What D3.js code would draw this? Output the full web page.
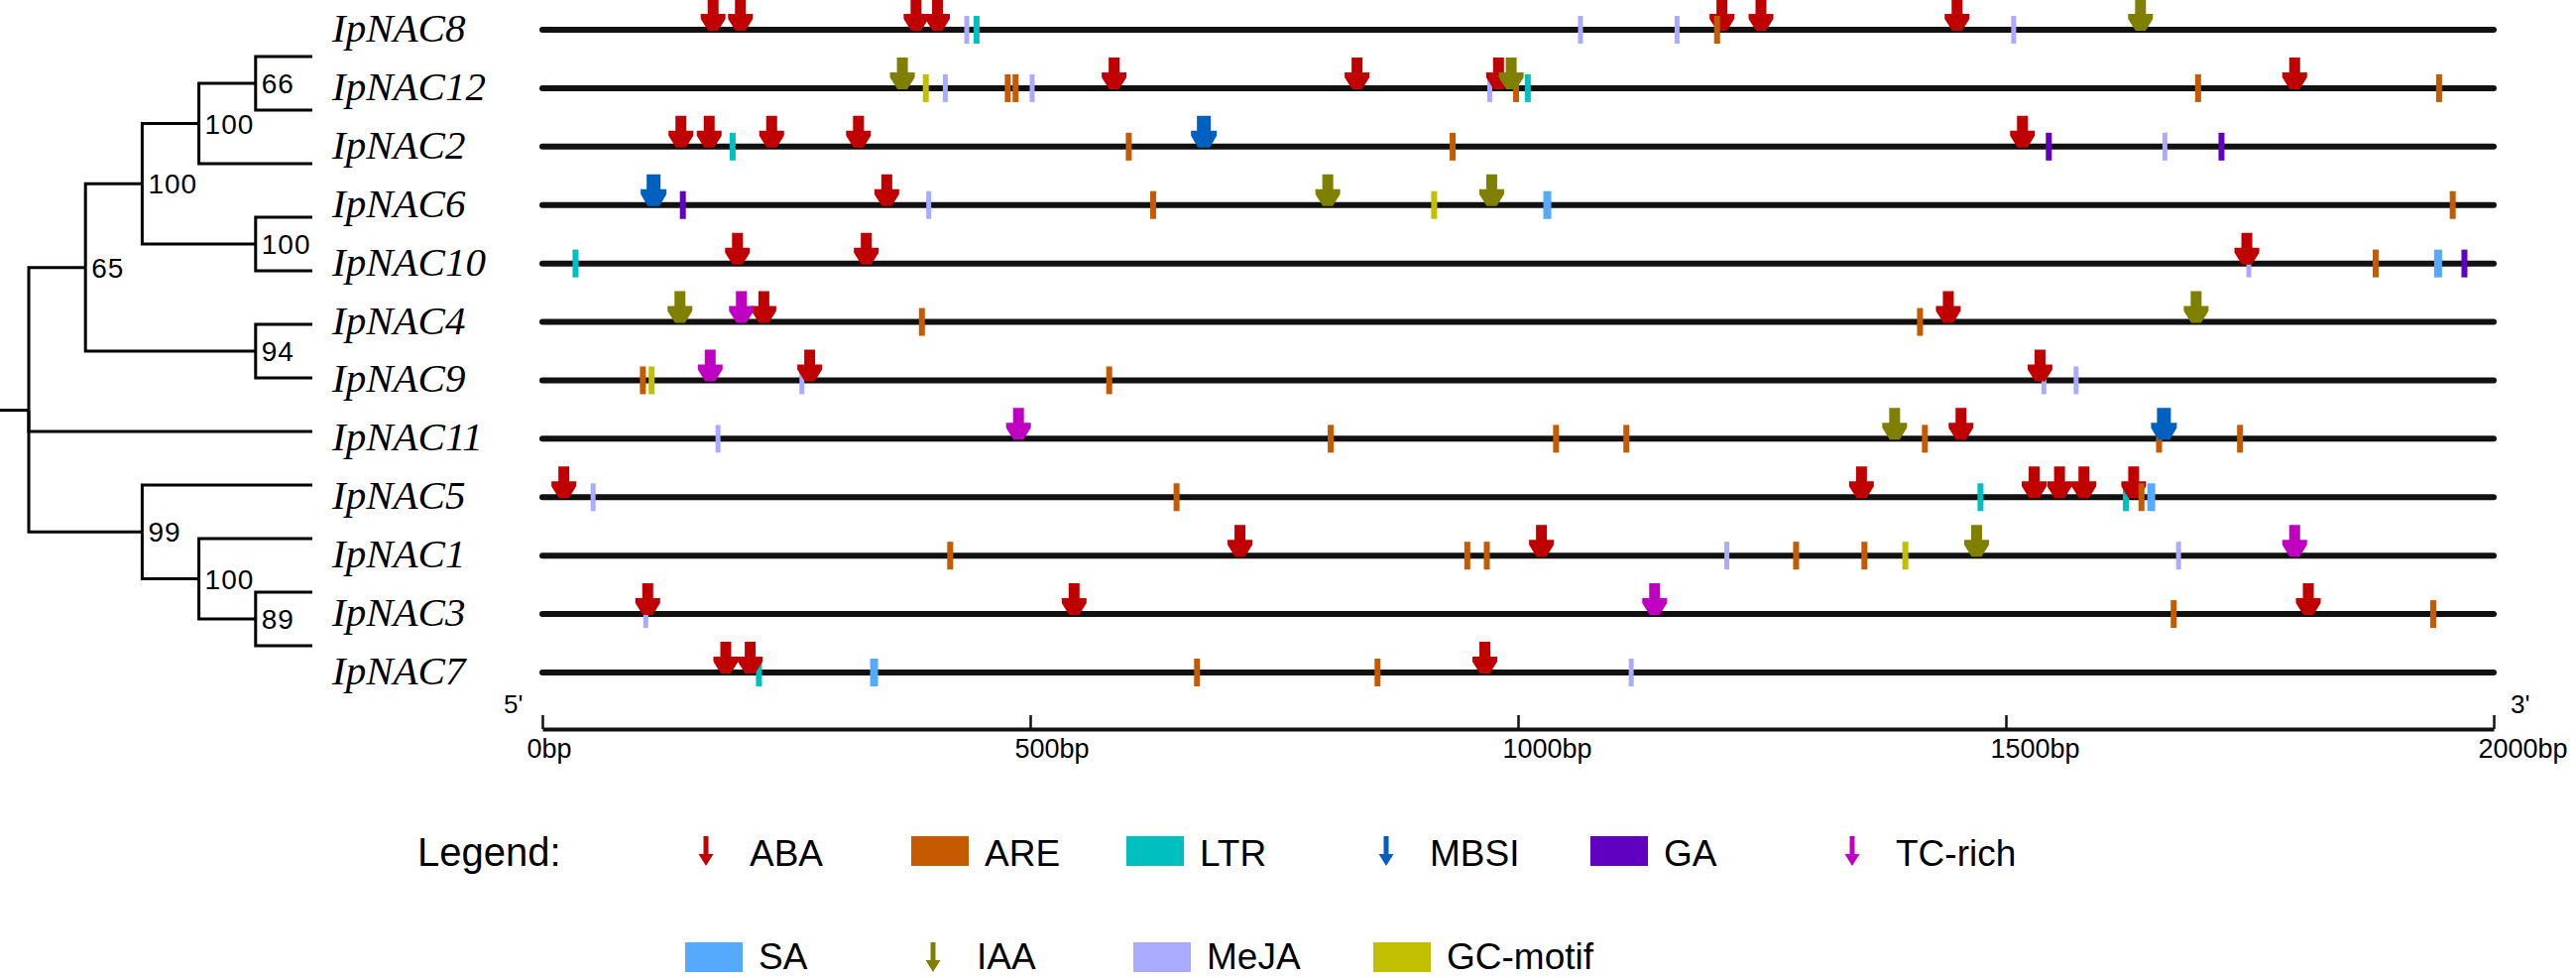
<!DOCTYPE html>
<html>
<head>
<meta charset="utf-8">
<script src="https://cdnjs.cloudflare.com/ajax/libs/d3/7.8.5/d3.min.js"></script>
<style>
  body { margin: 0; background: #fff; }
  svg { display: block; }
</style>
</head>
<body>
<svg id="chart" width="2598" height="986"></svg>
<script>
// gene order (top to bottom, as in the tree)
const genes = ["IpNAC8", "IpNAC12", "IpNAC2", "IpNAC6", "IpNAC10", "IpNAC4",
               "IpNAC9", "IpNAC11", "IpNAC5", "IpNAC1", "IpNAC3", "IpNAC7"];

// tree topology with bootstrap values
const tree = { children: [
  { support: 65, children: [
    { support: 100, children: [
      { support: 100, children: [
        { support: 66, children: [{ name: "IpNAC8" }, { name: "IpNAC12" }] },
        { name: "IpNAC2" } ] },
      { support: 100, children: [{ name: "IpNAC6" }, { name: "IpNAC10" }] } ] },
    { support: 94, children: [{ name: "IpNAC4" }, { name: "IpNAC9" }] } ] },
  { name: "IpNAC11" },
  { support: 99, children: [
    { name: "IpNAC5" },
    { support: 100, children: [
      { name: "IpNAC1" },
      { support: 89, children: [{ name: "IpNAC3" }, { name: "IpNAC7" }] } ] } ] }
] };

const axisTicks = [0, 500, 1000, 1500, 2000];

// cis-elements: [gene, position in bp]
const ABA = [["IpNAC8",175],["IpNAC8",203],["IpNAC8",383],["IpNAC8",405],["IpNAC8",1209],["IpNAC8",1249],["IpNAC8",1450],
  ["IpNAC12",586],["IpNAC12",835],["IpNAC12",980],["IpNAC12",1796],
  ["IpNAC2",142],["IpNAC2",171],["IpNAC2",235],["IpNAC2",324],["IpNAC2",1517],
  ["IpNAC6",353],
  ["IpNAC10",200],["IpNAC10",332],["IpNAC10",1747],
  ["IpNAC4",227],["IpNAC4",1441],
  ["IpNAC9",274],["IpNAC9",1535],
  ["IpNAC11",1454],
  ["IpNAC5",22],["IpNAC5",1352],["IpNAC5",1529],["IpNAC5",1555],["IpNAC5",1580],["IpNAC5",1631],
  ["IpNAC1",715],["IpNAC1",1024],
  ["IpNAC3",108],["IpNAC3",545],["IpNAC3",1810],
  ["IpNAC7",188],["IpNAC7",213],["IpNAC7",966]];
const ARE = [["IpNAC8",1204],
  ["IpNAC12",477],["IpNAC12",485],["IpNAC12",998],["IpNAC12",1697],["IpNAC12",1944],
  ["IpNAC2",601],["IpNAC2",933],
  ["IpNAC6",626],["IpNAC6",1958],
  ["IpNAC10",1879],
  ["IpNAC4",389],["IpNAC4",1412],
  ["IpNAC9",103],["IpNAC9",581],
  ["IpNAC11",808],["IpNAC11",1039],["IpNAC11",1111],["IpNAC11",1417],["IpNAC11",1657],["IpNAC11",1740],
  ["IpNAC5",650],["IpNAC5",1639],
  ["IpNAC1",418],["IpNAC1",948],["IpNAC1",968],["IpNAC1",1285],["IpNAC1",1355],
  ["IpNAC3",1672],["IpNAC3",1938],
  ["IpNAC7",671],["IpNAC7",856]];
const LTR = [["IpNAC8",445],["IpNAC12",1010],["IpNAC2",195],["IpNAC10",34],
  ["IpNAC5",1474],["IpNAC5",1623],["IpNAC7",222]];
const MBSI = [["IpNAC2",678],["IpNAC6",114],["IpNAC11",1662]];
const GA = [["IpNAC2",1544],["IpNAC2",1721],["IpNAC6",144],["IpNAC10",1970]];
const TCrich = [["IpNAC4",204],["IpNAC9",172],["IpNAC11",488],["IpNAC3",1140],["IpNAC1",1796]];
const SA = [["IpNAC6",1030],["IpNAC10",1943],["IpNAC5",1649],["IpNAC7",340]];
const IAA = [["IpNAC8",1638],["IpNAC12",369],["IpNAC12",993],["IpNAC6",805],["IpNAC6",973],
  ["IpNAC4",141],["IpNAC4",1695],["IpNAC11",1386],["IpNAC1",1470]];
const MeJA = [["IpNAC8",435],["IpNAC8",1064],["IpNAC8",1163],["IpNAC8",1508],
  ["IpNAC12",413],["IpNAC12",502],["IpNAC12",971],
  ["IpNAC2",1663],["IpNAC6",396],["IpNAC10",1749],
  ["IpNAC9",266],["IpNAC9",1539],["IpNAC9",1572],
  ["IpNAC11",180],["IpNAC5",52],["IpNAC1",1214],["IpNAC1",1677],
  ["IpNAC3",106],["IpNAC7",1116]];
const GCmotif = [["IpNAC12",393],["IpNAC6",914],["IpNAC9",112],["IpNAC1",1397]];

// ---------- styles ----------
const colors = {
  "ABA": "#c00000", "ARE": "#c55a00", "LTR": "#00bfbf", "MBSI": "#0060c0", "GA": "#6000c0",
  "TC-rich": "#c000c0", "SA": "#55aaff", "IAA": "#808000", "MeJA": "#aaaaff", "GC-motif": "#c0c000"
};
const sans = "'Liberation Sans', Arial, Helvetica, sans-serif";
const serif = "'Liberation Serif', 'Times New Roman', serif";

const svg = d3.select("#chart");

const x = d3.scaleLinear().domain([0, 2000]).range([547, 2515]);
const y = d3.scalePoint().domain(genes).range([30, 678]);

// ---------- tree ----------
const root = d3.hierarchy(tree);
d3.cluster().size([genes.length - 1, 5]).separation(() => 1)(root);
const treeY = d3.scaleLinear().domain([0, genes.length - 1]).range([30, 678]);
const treeX = d3.scaleLinear().domain([0, 5]).range([29, 315]);

const treeG = svg.append("g")
  .attr("fill", "none").attr("stroke", "#000").attr("stroke-width", 3);

treeG.selectAll("path.branch")
  .data(root.links())
  .enter().append("path")
  .attr("class", "branch")
  .attr("d", d => "M" + treeX(d.source.y) + "," + treeY(d.source.x) +
                  "V" + treeY(d.target.x) + "H" + treeX(d.target.y));

treeG.append("path")
  .attr("d", "M0," + treeY(root.x) + "H" + treeX(root.y));

svg.append("g").selectAll("text")
  .data(root.descendants().filter(d => d.data.support))
  .enter().append("text")
  .attr("x", d => treeX(d.y) + 6)
  .attr("y", d => treeY(d.x) + 10)
  .attr("font-family", sans)
  .attr("font-size", 28)
  .attr("letter-spacing", 1)
  .text(d => d.data.support);

svg.append("g").selectAll("text")
  .data(genes)
  .enter().append("text")
  .attr("x", 335)
  .attr("y", d => y(d) + 12)
  .attr("font-family", serif)
  .attr("font-style", "italic")
  .attr("font-size", 41)
  .text(d => d);

// ---------- gene lines ----------
svg.append("g").selectAll("line")
  .data(genes)
  .enter().append("line")
  .attr("x1", x(0)).attr("x2", x(2000))
  .attr("y1", d => y(d)).attr("y2", d => y(d))
  .attr("stroke", "#111").attr("stroke-width", 6).attr("stroke-linecap", "round");

// ---------- elements ----------
const arrowPath = "M-5.5,-31H5.5V-16H12.5V-11L5,1H-5L-12.5,-11V-16H-5.5Z";
const mbsiPath = "M-7,-31H7V-16H13V-11L6,1H-6L-13,-11V-16H-7Z";

function drawTicks(data, type, w) {
  svg.append("g").selectAll("rect")
    .data(data)
    .enter().append("rect")
    .attr("x", d => x(d[1]) - w / 2)
    .attr("y", d => y(d[0]) - 14)
    .attr("width", w)
    .attr("height", 28)
    .attr("fill", colors[type]);
}
function drawArrows(data, type, p) {
  svg.append("g").selectAll("path")
    .data(data)
    .enter().append("path")
    .attr("transform", d => "translate(" + x(d[1]) + "," + y(d[0]) + ")")
    .attr("d", p)
    .attr("fill", colors[type]);
}

drawTicks(LTR, "LTR", 6);
drawTicks(MeJA, "MeJA", 5);
drawTicks(GCmotif, "GC-motif", 6);
drawArrows(ABA, "ABA", arrowPath);
drawTicks(ARE, "ARE", 6);
drawTicks(GA, "GA", 6);
drawTicks(SA, "SA", 8);
drawArrows(IAA, "IAA", arrowPath);
drawArrows(TCrich, "TC-rich", arrowPath);
drawArrows(MBSI, "MBSI", mbsiPath);

// ---------- scale axis ----------
const axis = d3.axisBottom(x)
  .tickValues(axisTicks)
  .tickSizeInner(-14)
  .tickSizeOuter(0)
  .tickPadding(10)
  .tickFormat(d => d + "bp");

const axisG = svg.append("g")
  .attr("transform", "translate(0,735)")
  .call(axis);
axisG.select(".domain").attr("stroke", "#111").attr("stroke-width", 4);
axisG.selectAll(".tick line").attr("stroke", "#111").attr("stroke-width", 2.5);
axisG.selectAll(".tick text")
  .attr("fill", "#000")
  .attr("font-family", sans)
  .attr("font-size", 27)
  .attr("text-anchor", "start")
  .attr("dx", -16);

svg.append("text").attr("x", 508).attr("y", 719)
  .attr("font-family", sans).attr("font-size", 26).text("5'");
svg.append("text").attr("x", 2532).attr("y", 719)
  .attr("font-family", sans).attr("font-size", 26).text("3'");

// ---------- legend ----------
const legendItems = ["ABA", "ARE", "LTR", "MBSI", "GA", "TC-rich", "SA", "IAA", "MeJA", "GC-motif"];
const arrowTypes = ["ABA", "MBSI", "TC-rich", "IAA"];
const legendPos = [[712, 873], [919, 873], [1136, 873], [1398, 873], [1604, 873], [1868, 873],
                   [691, 980], [941, 980], [1143, 980], [1385, 980]];
const legendArrow = "M-2.5,-30H2.5V-12H7.5L0,0L-7.5,-12H-2.5Z";

svg.append("text").attr("x", 421).attr("y", 873)
  .attr("font-family", sans).attr("font-size", 40).text("Legend:");

const lg = svg.append("g").selectAll("g")
  .data(legendItems)
  .enter().append("g")
  .attr("transform", (d, i) => "translate(" + legendPos[i][0] + "," + legendPos[i][1] + ")");

lg.filter(d => arrowTypes.includes(d)).append("path")
  .attr("d", legendArrow)
  .attr("fill", d => colors[d]);
lg.filter(d => !arrowTypes.includes(d)).append("rect")
  .attr("x", 0).attr("y", -30).attr("width", 58).attr("height", 30)
  .attr("fill", d => colors[d]);
lg.append("text")
  .attr("x", d => arrowTypes.includes(d) ? 44 : 74)
  .attr("y", (d, i) => i < 6 ? 0 : -3)
  .attr("font-family", sans)
  .attr("font-size", 37)
  .text(d => d);
</script>
</body>
</html>
